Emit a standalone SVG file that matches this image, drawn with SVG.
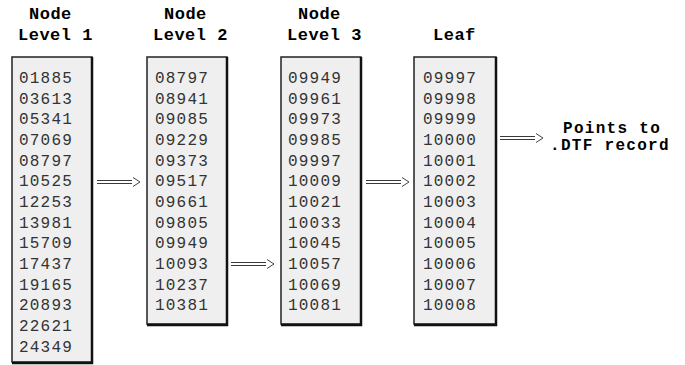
<svg xmlns="http://www.w3.org/2000/svg" width="685" height="365" viewBox="0 0 685 365">
<defs>
<style>
.hdr{font-family:"Liberation Mono","Courier New",monospace;font-weight:bold;font-size:17px;letter-spacing:0.5px;fill:#000}
.tgt{font-family:"Liberation Mono","Courier New",monospace;font-weight:bold;font-size:16px;letter-spacing:1.3px;fill:#000}
.num{font-family:"Liberation Mono","DejaVu Sans Mono",monospace;font-size:16px;letter-spacing:1.2px;fill:#333}
.box{fill:#efefef;stroke:#222;stroke-width:1.5}
.sh{stroke:#111;stroke-width:2.5;fill:none}
.ln{stroke:#3a3a3a;stroke-width:1.2;fill:none}
.hd{stroke:#444;stroke-width:1;fill:none}
</style>
</defs>
<rect width="685" height="365" fill="#fff"/>
<g id="headers">
<text class="hdr" x="29" y="19">Node</text>
<text class="hdr" x="18" y="40" xml:space="preserve">Level 1</text>
<text class="hdr" x="164" y="19">Node</text>
<text class="hdr" x="153" y="40" xml:space="preserve">Level 2</text>
<text class="hdr" x="298" y="19">Node</text>
<text class="hdr" x="287" y="40" xml:space="preserve">Level 3</text>
<text class="hdr" x="433" y="40">Leaf</text>
</g>
<g id="node1">
<rect class="box" x="12" y="57" width="80" height="305"/>
<path class="sh" d="M92,57 V363 H12"/>
<text class="num" x="19" y="83">01885</text>
<text class="num" x="19" y="103.7">03613</text>
<text class="num" x="19" y="124.3">05341</text>
<text class="num" x="19" y="145">07069</text>
<text class="num" x="19" y="165.7">08797</text>
<text class="num" x="19" y="186.3">10525</text>
<text class="num" x="19" y="207">12253</text>
<text class="num" x="19" y="227.7">13981</text>
<text class="num" x="19" y="248.3">15709</text>
<text class="num" x="19" y="269">17437</text>
<text class="num" x="19" y="289.7">19165</text>
<text class="num" x="19" y="310.3">20893</text>
<text class="num" x="19" y="331">22621</text>
<text class="num" x="19" y="351.7">24349</text>
</g>
<g id="node2">
<rect class="box" x="147" y="57" width="80" height="267"/>
<path class="sh" d="M227,57 V325 H147"/>
<text class="num" x="155" y="83">08797</text>
<text class="num" x="155" y="103.7">08941</text>
<text class="num" x="155" y="124.3">09085</text>
<text class="num" x="155" y="145">09229</text>
<text class="num" x="155" y="165.7">09373</text>
<text class="num" x="155" y="186.3">09517</text>
<text class="num" x="155" y="207">09661</text>
<text class="num" x="155" y="227.7">09805</text>
<text class="num" x="155" y="248.3">09949</text>
<text class="num" x="155" y="269">10093</text>
<text class="num" x="155" y="289.7">10237</text>
<text class="num" x="155" y="310.3">10381</text>
</g>
<g id="node3">
<rect class="box" x="281" y="57" width="80" height="267"/>
<path class="sh" d="M361,57 V325 H281"/>
<text class="num" x="288" y="83">09949</text>
<text class="num" x="288" y="103.7">09961</text>
<text class="num" x="288" y="124.3">09973</text>
<text class="num" x="288" y="145">09985</text>
<text class="num" x="288" y="165.7">09997</text>
<text class="num" x="288" y="186.3">10009</text>
<text class="num" x="288" y="207">10021</text>
<text class="num" x="288" y="227.7">10033</text>
<text class="num" x="288" y="248.3">10045</text>
<text class="num" x="288" y="269">10057</text>
<text class="num" x="288" y="289.7">10069</text>
<text class="num" x="288" y="310.3">10081</text>
</g>
<g id="leaf">
<rect class="box" x="414" y="57" width="82" height="267"/>
<path class="sh" d="M496,57 V325 H414"/>
<text class="num" x="423" y="83">09997</text>
<text class="num" x="423" y="103.7">09998</text>
<text class="num" x="423" y="124.3">09999</text>
<text class="num" x="423" y="145">10000</text>
<text class="num" x="423" y="165.7">10001</text>
<text class="num" x="423" y="186.3">10002</text>
<text class="num" x="423" y="207">10003</text>
<text class="num" x="423" y="227.7">10004</text>
<text class="num" x="423" y="248.3">10005</text>
<text class="num" x="423" y="269">10006</text>
<text class="num" x="423" y="289.7">10007</text>
<text class="num" x="423" y="310.3">10008</text>
</g>
<g id="target">
<text class="tgt" x="563" y="132.5">Points to</text>
<text class="tgt" x="550" y="149.5">.DTF record</text>
</g>
<g id="connectors">
<path class="ln" d="M97,180.5 H132 M97,183.5 H132"/>
<path class="hd" d="M133,177.5 L140,182 L133,186.5"/>
<path class="ln" d="M231,262.5 H266 M231,265.5 H266"/>
<path class="hd" d="M267,259.5 L274,264 L267,268.5"/>
<path class="ln" d="M366,180.5 H401 M366,183.5 H401"/>
<path class="hd" d="M402,177.5 L409,182 L402,186.5"/>
<path class="ln" d="M500,136.5 H535 M500,139.5 H535"/>
<path class="hd" d="M536,133.5 L543,138 L536,142.5"/>
</g>
</svg>
